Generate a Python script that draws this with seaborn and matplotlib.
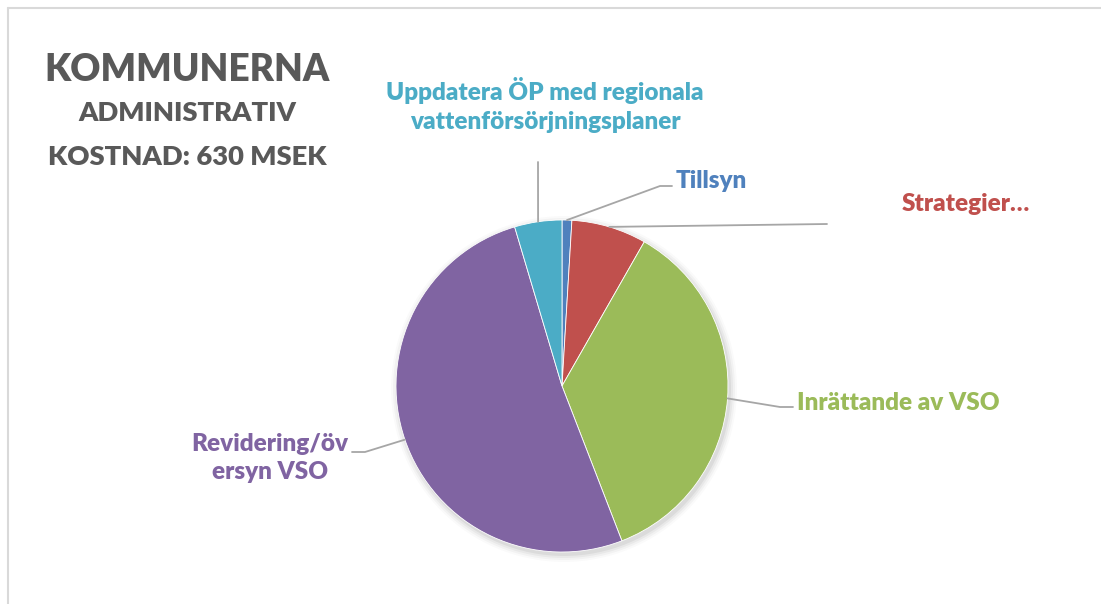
import numpy as np
import matplotlib
matplotlib.use("Agg")
import matplotlib.pyplot as plt
import seaborn as sns
from matplotlib.lines import Line2D
from matplotlib.patches import Circle

# Data (MSEK, total 630)
categories = ["Tillsyn", "Strategier…", "Inrättande av VSO",
              "Revidering/öv\nersyn VSO",
              "Uppdatera ÖP med regionala\nvattenförsörjningsplaner"]
values = [6, 46, 226, 323, 29]
colors = ["#4F81BD", "#C0504D", "#9BBB59", "#8064A2", "#4BACC6"]

title_lines = ["KOMMUNERNA", "ADMINISTRATIV", "KOSTNAD: 630 MSEK"]

sns.set_theme(style="white")
plt.rcParams['font.family'] = ['Lato', 'DejaVu Sans']

W, H = 1101, 604
fig = plt.figure(figsize=(W / 100, H / 100), dpi=100)
ax = fig.add_axes([0, 0, 1, 1])

# pixel coords helper (y measured from top)
def P(x, y):
    return (x, H - y)

cx, cy = P(562, 386)
r = 166

# soft shadow under the pie
for i, a in enumerate([0.05, 0.04, 0.03, 0.02]):
    ax.add_patch(Circle((cx + 2, cy - 3), r + 1 + 2 * i, color="black",
                        alpha=a, lw=0, zorder=0))

wedges, _ = ax.pie(values, colors=colors, startangle=90, counterclock=False,
                   center=(cx, cy), radius=r, frame=True,
                   wedgeprops=dict(linewidth=0.6, edgecolor="white"))

# label layout: (elbow points in px, text position in px, alignment, line spacing)
layout = [
    ([(660, 186), (672, 186)], (676, 181), "left", 1.0),
    ([(827, 224)], (966, 204), "center", 1.0),
    ([(780, 407), (793, 407)], (797, 403), "left", 1.0),
    ([(365, 452), (352, 452)], (270, 458), "center", 1.28),
    ([(538, 162)], (545, 105), "center", 1.4),
]

for w, col, lab, (pts, tpos, ha, ls) in zip(wedges, colors, categories, layout):
    mid = np.deg2rad((w.theta1 + w.theta2) / 2)
    start = (cx + r * np.cos(mid), cy + r * np.sin(mid))
    xs = [start[0]] + [p[0] for p in pts]
    ys = [start[1]] + [H - p[1] for p in pts]
    ax.plot(xs, ys, color="#A6A6A6", lw=1.3, zorder=1)
    ax.text(*P(*tpos), lab, color=col, ha=ha, va="center",
            fontsize=17.5, fontweight="heavy", linespacing=ls)

# title block
ax.text(*P(187, 70), title_lines[0], color="#595959", ha="center",
        va="center", fontsize=26.7, fontweight="heavy")
ax.text(*P(187, 113), title_lines[1], color="#595959", ha="center",
        va="center", fontsize=19.7, fontweight="heavy")
ax.text(*P(187, 157), title_lines[2], color="#595959", ha="center",
        va="center", fontsize=19.7, fontweight="heavy")

ax.set_xlim(0, W)
ax.set_ylim(0, H)
ax.set_aspect("equal")
ax.axis("off")

# chart border (left and top visible)
fig.add_artist(Line2D([8 / W, 8 / W], [0, 1 - 8 / H], color="#D9D9D9", lw=1.5))
fig.add_artist(Line2D([8 / W, 1], [1 - 8 / H, 1 - 8 / H], color="#D9D9D9", lw=1.5))

fig.savefig("out.png", dpi=100, facecolor="white")
